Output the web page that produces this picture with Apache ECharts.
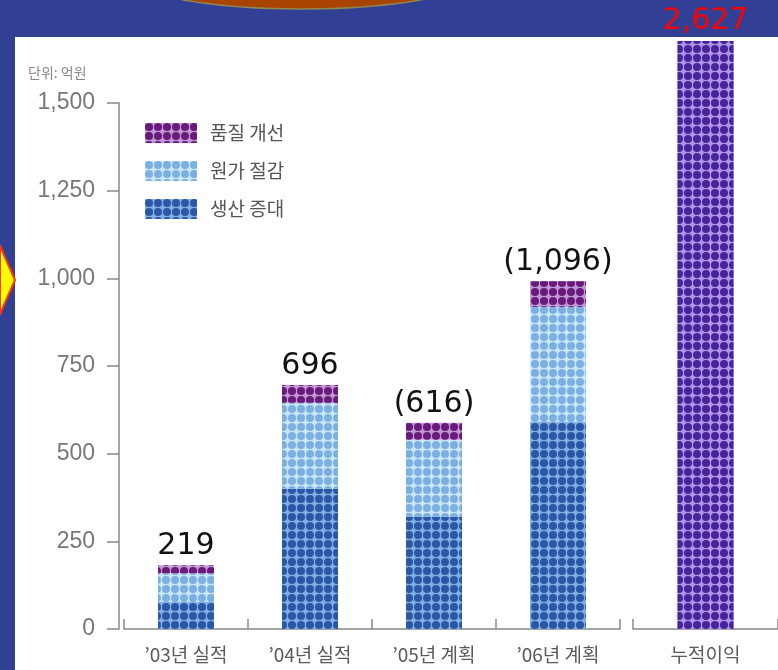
<!DOCTYPE html>
<html>
<head>
<meta charset="utf-8">
<script src="https://cdn.jsdelivr.net/npm/echarts@6/dist/echarts.min.js"></script>
<style>
html,body{margin:0;padding:0;background:#313f95;}
#chart{width:778px;height:670px;}
</style>
</head>
<body>
<div id="chart"></div>
<script>
// ---- data ----
const categories = ['’03년 실적', '’04년 실적', '’05년 계획', '’06년 계획'];
const totalCategory = ['누적이익'];
const production = [77, 400, 320, 590];   // 생산 증대
const costCut = [82, 245, 220, 328];      // 원가 절감
const quality = [23, 51, 48, 74];         // 품질 개선
const cumulative = [1677];                // 누적이익
const barLabels = ['219', '696', '(616)', '(1,096)'];
const cumulativeLabels = ['2,627'];
const seriesNames = ['품질 개선', '원가 절감', '생산 증대'];
const yMax = 1500, yInterval = 250;

// ---- styles ----
const KR = '"Noto Sans CJK KR", "Noto Sans", sans-serif';
function dots(dotColor, baseColor) {
  return {
    color: baseColor,
    decal: {
      symbol: 'circle',
      symbolSize: 1,
      color: dotColor,
      dashArrayX: [8, 1],
      dashArrayY: [8, 1],
      rotation: 0
    }
  };
}
const valueLabel = {
  show: true, position: 'top', distance: 4,
  fontFamily: '"DejaVu Sans", sans-serif', fontSize: 30, color: '#111'
};

const chart = echarts.init(document.getElementById('chart'));
const option = {
  backgroundColor: '#313f95',
  animation: false,
  aria: { enabled: true, decal: { show: true } },
  graphic: [
    { type: 'rect', z: -10, shape: { x: 15, y: 37, width: 763, height: 633 }, style: { fill: '#ffffff' } },
    { type: 'ellipse', z: -9, shape: { cx: 302, cy: -31, rx: 187, ry: 40 }, style: { fill: '#a84400', stroke: '#908850', lineWidth: 1.5 } },
    { type: 'polygon', z: -8, shape: { points: [[0, 246], [15, 280], [0, 314]] }, style: { fill: '#ffff00', stroke: '#ff3a00', lineWidth: 2 } },
    { type: 'text', z: 5, left: 28, top: 66, style: { text: '단위: 억원', font: '14px ' + KR, fill: '#888' } }
  ],
  legend: {
    data: seriesNames,
    orient: 'vertical',
    left: 140, top: 118,
    itemWidth: 52, itemHeight: 20, itemGap: 18,
    icon: 'rect',
    textStyle: { fontFamily: KR, fontSize: 19, color: '#555', padding: [0, 0, 0, 8] }
  },
  grid: [
    { left: 124, right: 158, top: 103, bottom: 41 },
    { left: 633, right: 0, top: 15.33, bottom: 41 }
  ],
  xAxis: [
    {
      type: 'category', gridIndex: 0, data: categories,
      axisLine: { lineStyle: { color: '#888', width: 1.5 } },
      axisTick: { show: true, inside: true, length: 10, interval: 0, lineStyle: { color: '#888', width: 1.5 } },
      axisLabel: { margin: 16, fontFamily: KR, fontSize: 19, color: '#5a5a5a' }
    },
    {
      type: 'category', gridIndex: 1, data: totalCategory,
      axisLine: { lineStyle: { color: '#888', width: 1.5 } },
      axisTick: { show: true, inside: true, length: 10, interval: 0, lineStyle: { color: '#888', width: 1.5 } },
      axisLabel: { margin: 16, fontFamily: KR, fontSize: 19, color: '#5a5a5a' }
    }
  ],
  yAxis: [
    {
      type: 'value', gridIndex: 0, min: 0, max: yMax, interval: yInterval,
      offset: 5,
      splitLine: { show: false },
      axisLine: { show: true, lineStyle: { color: '#888', width: 1.5 } },
      axisTick: { show: true, length: 12, lineStyle: { color: '#888', width: 1.5 } },
      axisLabel: {
        margin: 24, fontFamily: '"Liberation Sans Narrow", "Liberation Sans", sans-serif',
        fontSize: 23, color: '#777',
        formatter: v => v.toLocaleString('en-US')
      }
    },
    {
      type: 'value', gridIndex: 1, min: 0, max: 1750, show: false,
      splitLine: { show: false }
    }
  ],
  series: [
    {
      name: '생산 증대', type: 'bar', stack: 'total', xAxisIndex: 0, yAxisIndex: 0,
      barWidth: 56, data: production, itemStyle: dots('#2a58a6', '#84ade2')
    },
    {
      name: '원가 절감', type: 'bar', stack: 'total', xAxisIndex: 0, yAxisIndex: 0,
      barWidth: 56, data: costCut, itemStyle: dots('#7cb0e2', '#cbe6f8')
    },
    {
      name: '품질 개선', type: 'bar', stack: 'total', xAxisIndex: 0, yAxisIndex: 0,
      barWidth: 56, data: quality, itemStyle: dots('#6a1a7a', '#bf98d4'),
      label: Object.assign({}, valueLabel, { formatter: p => barLabels[p.dataIndex] })
    },
    {
      name: '누적이익', type: 'bar', xAxisIndex: 1, yAxisIndex: 1,
      barWidth: 56, data: cumulative, itemStyle: dots('#48239a', '#ad96e6'),
      label: Object.assign({}, valueLabel, { color: '#ff0000', distance: 5, formatter: p => cumulativeLabels[p.dataIndex] })
    }
  ]
};
chart.setOption(option);
</script>
</body>
</html>
